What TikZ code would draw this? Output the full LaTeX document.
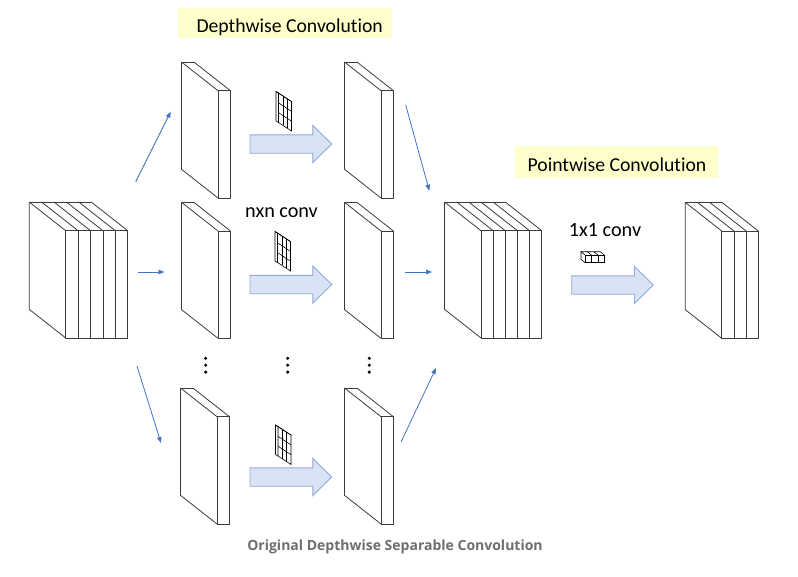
\documentclass[tikz,border=0pt]{standalone}
\usepackage{fontspec}
\setmainfont{Carlito}[Ligatures={NoCommon}]
\newfontfamily\capfont{Open Sans}[Ligatures={NoCommon}]
\usetikzlibrary{arrows.meta,calc}
\definecolor{slabc}{RGB}{60,60,60}
\definecolor{thinblue}{RGB}{68,114,196}
\definecolor{fatfill}{RGB}{218,227,243}
\definecolor{fatdraw}{RGB}{143,170,220}
\definecolor{titlebg}{RGB}{255,255,204}
\definecolor{capgray}{RGB}{110,110,110}
\newcommand\sdx{36.5}
\newcommand\sdy{28.7}
\newcommand\sht{107.3}
\tikzset{
  slabline/.style={draw=slabc,line width=0.8pt,line join=round},
  thinarrow/.style={draw=thinblue,line width=0.8pt,-{Triangle[length=6pt,width=4.5pt]}},
  fatarr/.style={fill=fatfill,draw=fatdraw,line width=0.9pt},
  kern/.style={draw=black,line width=0.6pt},
  titlebox/.style={fill=titlebg,inner sep=0pt},
  lab/.style={font=\fontsize{20.2}{24}\selectfont,inner sep=0pt,anchor=base},
  ttl/.style={font=\fontsize{19.7}{23}\selectfont,inner sep=0pt,anchor=base}
}
% X = front-left x, Y = front-top y, n slices, w slice width
\newcommand\drawslab[4]{%
  \pgfmathsetmacro\slR{#1+#3*#4}%
  \fill[white] (#1,#2) -- ++(-\sdx,-\sdy) -- ({\slR-\sdx},{#2-\sdy}) -- (\slR,#2) -- (\slR,{#2+\sht}) -- (#1,{#2+\sht}) -- ({#1-\sdx},{#2+\sht-\sdy}) -- cycle;
  \draw[slabline] ({#1-\sdx},{#2-\sdy}) -- ({\slR-\sdx},{#2-\sdy});
  \draw[slabline] ({#1-\sdx},{#2-\sdy}) -- ({#1-\sdx},{#2+\sht-\sdy}) -- (#1,{#2+\sht});
  \draw[slabline] (#1,#2) rectangle (\slR,{#2+\sht});
  \foreach \i in {0,...,#3}{%
    \pgfmathsetmacro\slX{#1+\i*#4}%
    \draw[slabline] (\slX,#2) -- ++(-\sdx,-\sdy);
    \draw[slabline] (\slX,#2) -- (\slX,{#2+\sht});
  }%
}
% name, x0, yc, tip x
\newcommand\fatarrow[4]{%
  \path[fatarr] (#2,{#3-9.2}) -- ({#4-18.8},{#3-9.2}) -- ({#4-18.8},{#3-18.5}) -- (#4,#3) -- ({#4-18.8},{#3+18.5}) -- ({#4-18.8},{#3+9.2}) -- (#2,{#3+9.2}) -- cycle;
  \coordinate (#1) at ({(#2+#4)/2},#3);
}
% 3x3 kernel, top-left x y
\newcommand\kernel[2]{%
  \begin{scope}[shift={(#1,#2)}]
    \coordinate (kA) at (2.5,1.5);
    \coordinate (kB) at (15.5,10);
    \coordinate (kC) at (15.5,39.5);
    \coordinate (kD) at (2.5,31);
    \fill[white] (0,0) -- (13,8.5) -- (kB) -- (kC) -- (kD) -- (0,29.5) -- cycle;
    \draw[kern] (0,29.5) -- (0,0) -- (13,8.5) -- (kB);
    \draw[kern] (0,0) -- (kA);
    \draw[kern] (0,29.5) -- (kD);
    \draw[kern] (kA) -- (kB) -- (kC) -- (kD) -- cycle;
    \draw[kern] ($(kA)!1/3!(kB)$) -- ($(kD)!1/3!(kC)$);
    \draw[kern] ($(kA)!2/3!(kB)$) -- ($(kD)!2/3!(kC)$);
    \draw[kern] ($(kA)!1/3!(kD)$) -- ($(kB)!1/3!(kC)$);
    \draw[kern] ($(kA)!2/3!(kD)$) -- ($(kB)!2/3!(kC)$);
  \end{scope}%
}
\begin{document}
\begin{tikzpicture}[x=1pt,y=-1pt]
\useasboundingbox[fill=white] (0,0) rectangle (798,576);

% titles
\node[titlebox,minimum width=213.7pt,minimum height=30pt] (dwbox) at (284.8,23.3) {};
\node[ttl] (dwtitle) at (289.7,32.3) {Depthwise Convolution};
\node[titlebox,minimum width=203.3pt,minimum height=32.6pt] (pwbox) at (616.7,162) {};
\node[ttl] (pwtitle) at (617,171.7) {Pointwise Convolution};

% input block
\drawslab{65.7}{230.7}{5}{12.4}
% depthwise inputs
\drawslab{218}{90.7}{1}{12.4}
\drawslab{218}{231}{1}{12.4}
\drawslab{217}{416.7}{1}{12.4}
% depthwise outputs
\drawslab{381}{90.7}{1}{12.4}
\drawslab{381}{231}{1}{12.4}
\drawslab{381}{416.7}{1}{12.4}
% stacked
\drawslab{481}{230.7}{5}{12.15}
% output
\drawslab{721.7}{231}{3}{12.2}

% fat arrows
\fatarrow{f1}{250}{144}{331.7}
\fatarrow{f2}{250}{284.5}{331.7}
\fatarrow{f3}{250}{477}{331.7}
\fatarrow{f4}{571.7}{285}{653.3}

% kernels
\kernel{276}{91.5}
\kernel{275}{231.5}
\kernel{275.5}{425}

% 1x1 kernel
\fill[white] (585,255) -- (581,251.7) -- (600.3,251.7) -- (604.3,255) -- (604.3,262.7) -- (585,262.7) -- (581,259.4) -- cycle;
\draw[kern] (585,255) rectangle (604.3,262.7);
\draw[kern] (585,255) -- (581,251.7) -- (600.3,251.7) -- (604.3,255);
\draw[kern] (581,251.7) -- (581,259.4) -- (585,262.7);
\draw[kern] (591.4,255) -- (591.4,262.7);
\draw[kern] (597.9,255) -- (597.9,262.7);
\draw[kern] (591.4,255) -- (587.4,251.7);
\draw[kern] (597.9,255) -- (593.9,251.7);

% labels
\node[lab] (nxn) at (281.5,217) {nxn conv};
\node[lab] (oxo) at (605,236.7) {1x1 conv};

% dots
\foreach \dx in {205.7,287.7,369.3}{
  \foreach \dy in {358.3,365.2,372.1}{
    \fill[black] (\dx,\dy) circle (1.7pt);
  }
}

% thin arrows
\coordinate (a1s) at (135.7,181.7); \coordinate (a1e) at (170.7,111.7);
\coordinate (a2s) at (138,272);     \coordinate (a2e) at (164.5,272);
\coordinate (a3s) at (137,366);     \coordinate (a3e) at (161,443);
\coordinate (b1s) at (405.7,105);   \coordinate (b1e) at (429.3,190.7);
\coordinate (b2s) at (405,272);     \coordinate (b2e) at (432,272);
\coordinate (b3s) at (401,442);     \coordinate (b3e) at (436,368);
\draw[thinarrow] (a1s) -- (a1e);
\draw[thinarrow] (a2s) -- (a2e);
\draw[thinarrow] (a3s) -- (a3e);
\draw[thinarrow] (b1s) -- (b1e);
\draw[thinarrow] (b2s) -- (b2e);
\draw[thinarrow] (b3s) -- (b3e);

% caption
\node[inner sep=0pt,anchor=base,text=capgray,font=\capfont\bfseries\fontsize{14}{17}\selectfont] (cap) at (395,550.7) {Original Depthwise Separable Convolution};
\end{tikzpicture}
\end{document}
